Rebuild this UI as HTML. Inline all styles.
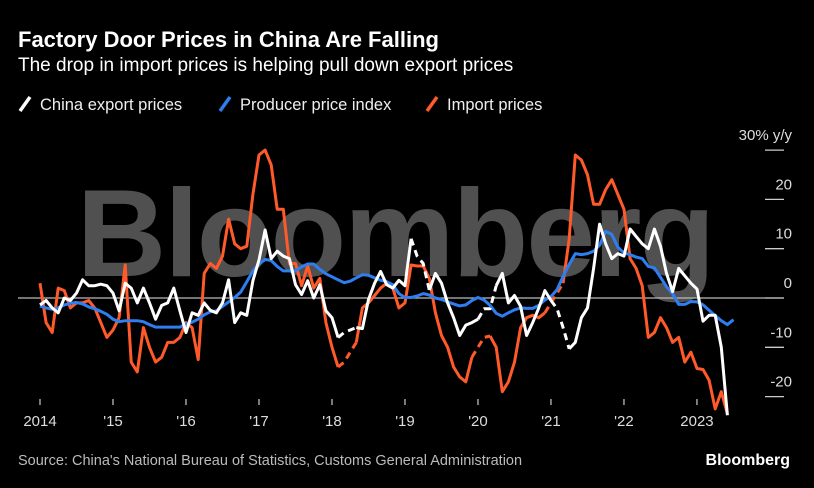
<!DOCTYPE html>
<html><head><meta charset="utf-8"><style>
body{margin:0;background:#000;width:814px;height:488px;overflow:hidden;font-family:"Liberation Sans",sans-serif;color:#fff}
.t{position:absolute;left:18px;white-space:nowrap}
</style></head><body>
<div class="t" style="top:27px;font-size:22px;font-weight:bold">Factory Door Prices in China Are Falling</div>
<div class="t" style="top:55px;font-size:19px">The drop in import prices is helping pull down export prices</div>
<div class="t" style="top:453px;font-size:14.5px;color:#bbb">Source: China's National Bureau of Statistics, Customs General Administration</div>
<div class="t" style="left:auto;right:24px;top:452px;font-size:16px;font-weight:bold">Bloomberg</div>
<svg id="c" width="814" height="488" style="position:absolute;left:0;top:0"></svg>
<script>
const white=[-1.4,-0.5,-2,-3,0,-0.5,1,3.7,2.5,2.5,2.8,2.5,1,-2.6,3,2,-1,2,-1,-4.3,-1.5,-1,2,-2.6,-7,-3,-3.5,-1,-2.5,-3,-1,3.7,-5,-3,-3.5,3.5,7.7,13.8,8,9.5,8.5,8,2.7,0.7,3.5,0,2.7,-2.6,-4,-8,-7,-6.5,-6,-6.2,-0.3,3,5.4,2.7,2,3.6,2.5,12,8.5,7,1.6,5,3,-1,-4,-7.6,-5.5,-5,-4.3,-2.2,-2.2,2.5,5,-1,0.5,-1.7,-7.6,-5,-2,1.5,-0.5,-2.2,-6,-10.3,-9,-4,-2,6,15,11,8,9,8.5,14,12.5,11,10,14,10.5,5,1.3,6,4.5,3,1.8,-4.7,-3.5,-3.5,-10,-23.8];
const ppi=[-1.6,-2,-2.3,-2,-1.4,-1.1,-0.9,-1.2,-1.8,-2.2,-2.7,-3.3,-4.3,-4.8,-4.6,-4.6,-4.6,-4.8,-5.4,-5.9,-5.9,-5.9,-5.9,-5.9,-5.3,-4.9,-4.3,-3.4,-2.8,-2.6,-1.7,-0.8,0.1,1.2,3.3,5.5,6.9,7.8,7.6,6.4,5.5,5.5,5.5,6.3,6.9,6.9,5.8,4.9,4.3,3.7,3.1,3.4,4.1,4.7,4.6,4.1,3.6,3.3,2.7,0.9,0.1,0.1,0.4,0.9,0.6,0,-0.3,-0.8,-1.2,-1.6,-1.4,-0.5,0.1,-0.4,-1.5,-3.1,-3.7,-3,-2.4,-2,-2.1,-2.1,-1.5,-0.4,0.3,1.7,4.4,6.8,9,8.8,9,9.5,10.7,13.5,12.9,10.3,9.1,8.8,8.3,8,6.4,6.1,4.2,2.3,0.9,-1.3,-1.3,-0.7,-0.8,-1.4,-2.5,-3.6,-4.6,-5.4,-4.4];
const imp=[3,-5,-7,2,1.5,-2,-1,-1,-0.5,-2,-5,-8,-6.5,-4,6.7,-13,-15,-6,-10,-13,-12,-9,-9,-8,-5,-6,-12.5,5,7,6,8.5,16,11,10,10.5,21,29,30,27,18,18,7,7,2.5,6.5,2,4,-5,-10,-14,-13,-11,-9,-2,-1,0.5,2,3,2,-2,-1,6.7,6.5,6.5,4,-3,-7.6,-10,-14,-16,-17,-12,-10,-8,-7.7,-10,-19,-17,-13,-6,-4,-3.5,-4,-3,-1,1,3,12,29,28,25,19,19,22,24,21,18,8,6,2.5,-8,-7,-4,-6,-9,-8,-13,-11,-14.3,-14.5,-16.7,-22.5,-19,-23.5];
const yTicks=[30,20,10,0,-10,-20];
const yLabels=["30% y/y","20","10","0","-10","-20"];
const xLabels=["2014","'15","'16","'17","'18","'19","'20","'21","'22","2023"];
const whiteDash=[[49,52],[61,64],[72,75],[84,87]];
const impDash=[[49,52],[71,74],[83,86]];
const svg=document.getElementById('c');const NS='http://www.w3.org/2000/svg';
const X=m=>40+m*6.083, Y=v=>298-v*4.93;
function mk(t,a,p){const e=document.createElementNS(NS,t);for(const k in a)e.setAttribute(k,a[k]);(p||svg).appendChild(e);return e;}
const wm=mk('text',{x:395,y:276,'text-anchor':'middle','font-size':124,'font-weight':'bold',fill:'#505050','font-family':'Liberation Sans, sans-serif','letter-spacing':'-2'});wm.textContent='Bloomberg';


yTicks.forEach((v,i)=>{
const g=mk('line',{x1:765,x2:784,y1:Y(v),y2:Y(v),stroke:'#ccc','stroke-width':1.3});


const t=mk('text',{x:792,y:Y(v)-10,'text-anchor':'end','font-size':15,fill:'#ddd','font-family':'Liberation Sans, sans-serif'});t.textContent=yLabels[i];


});
const z=mk('line',{x1:18,x2:784,y1:Y(0),y2:Y(0),stroke:'#bbb','stroke-width':1.2});


xLabels.forEach((l,i)=>{
const x=X(i*12);
const tk=mk('line',{x1:x,x2:x,y1:399,y2:405,stroke:'#ccc','stroke-width':1.2});


const t=mk('text',{x:x,y:426,'text-anchor':'middle','font-size':15,fill:'#ddd','font-family':'Liberation Sans, sans-serif'});t.textContent=l;


});
function series(data,color,dash,name){
const g=mk('g',{});


const isD=i=>dash.some(r=>i>=r[0]&&i<r[1]);
let i=0;
while(i<data.length-1){const d=isD(i);let j=i;let pts=[];while(j<data.length-1&&isD(j)===d){j++;}
for(let k=i;k<=j;k++)pts.push(X(k).toFixed(1)+','+Y(data[k]).toFixed(1));
const a={points:pts.join(' '),fill:'none',stroke:color,'stroke-width':3,'stroke-linejoin':'round'};
if(d)a['stroke-dasharray']='7,5';
mk('polyline',a,g);i=j;}
}
series(imp,'#ff5a2a',impDash,'import-prices-line');
series(ppi,'#2e7ef0',[],'ppi-line');
series(white,'#ffffff',whiteDash,'export-prices-line');
const leg=[["China export prices","#fff",18],["Producer price index","#2e7ef0",218],["Import prices","#ff5a2a",425]];
leg.forEach(l=>{
const g=mk('g',{});


mk('line',{x1:l[2]+2,y1:111,x2:l[2]+12,y2:97,stroke:l[1],'stroke-width':3.5},g);
const t=mk('text',{x:l[2]+22,y:110,'font-size':16.5,fill:'#eee','font-family':'Liberation Sans, sans-serif'},g);t.textContent=l[0];
});
</script>
</body></html>
